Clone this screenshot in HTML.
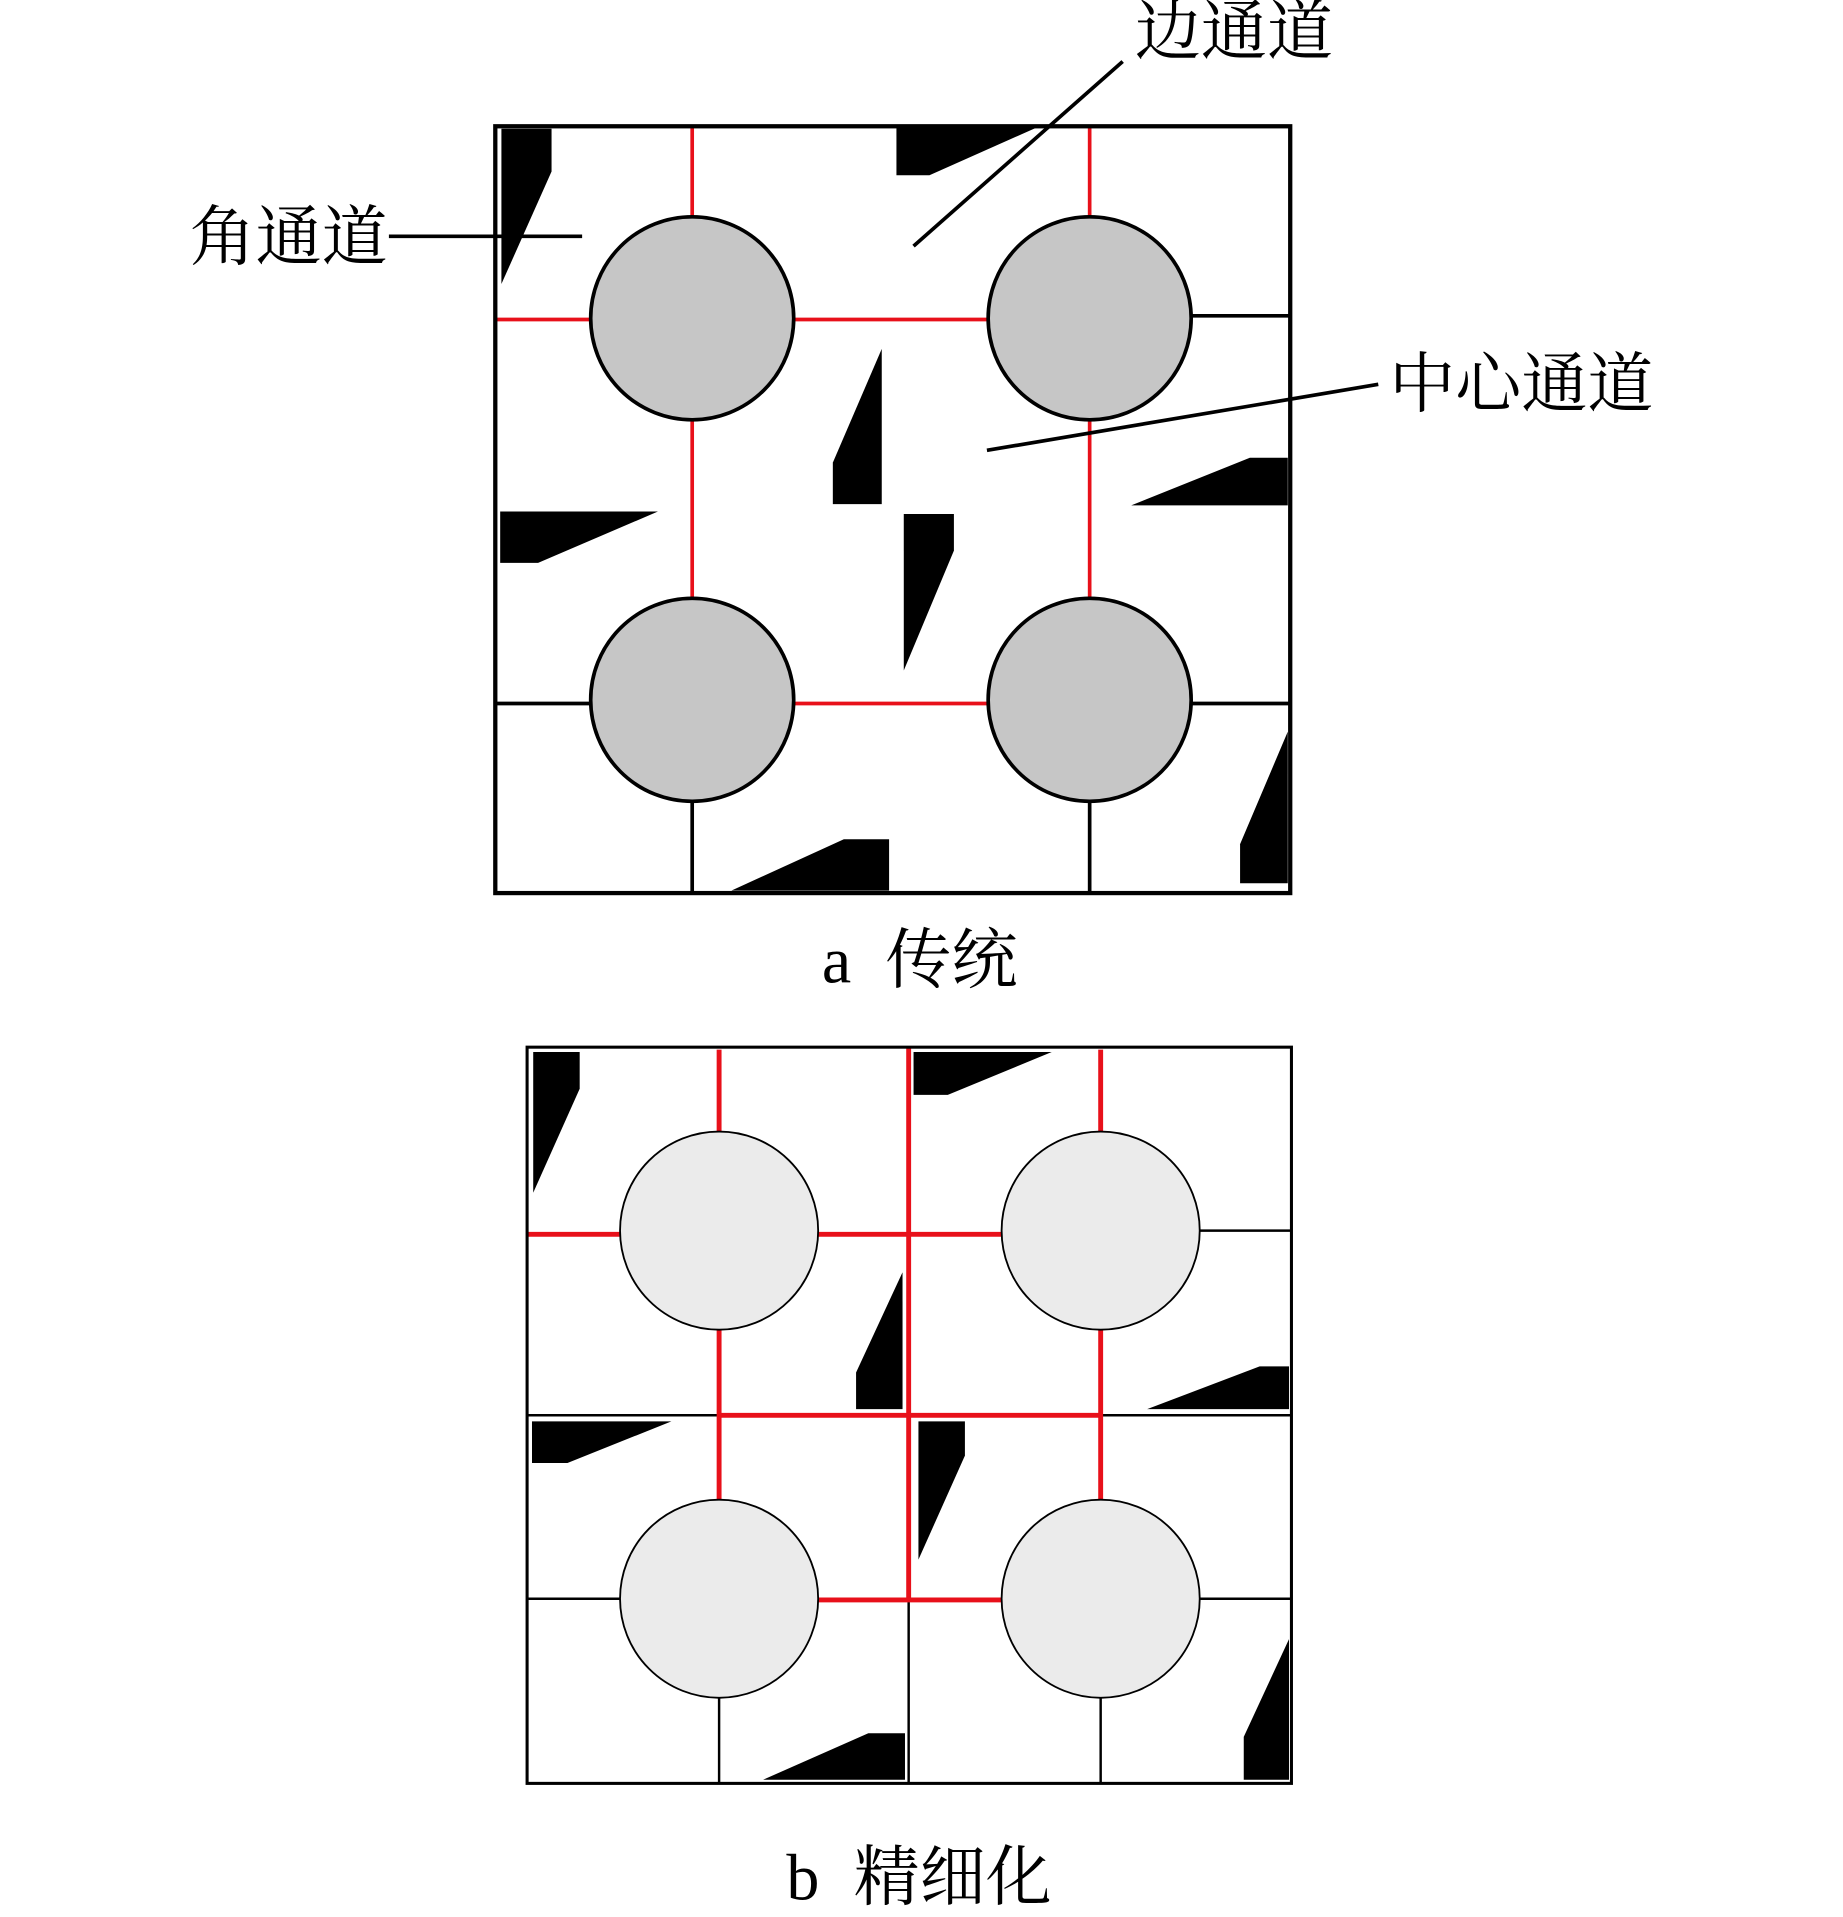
<!DOCTYPE html>
<html><head><meta charset="utf-8"><style>html,body{margin:0;padding:0;background:#fff}svg{display:block}</style></head>
<body>
<svg width="1843" height="1917" viewBox="0 0 1507 1567" xmlns="http://www.w3.org/2000/svg" font-family="'Liberation Serif','Noto Serif CJK SC',serif">
<rect width="1507" height="1567" fill="#fff"/>
<!-- Panel a -->
<g fill="#000">
<polygon points="410,105 451,105 451,140 410,232"/>
<polygon points="733,103 850,103 760,143 733,143"/>
<polygon points="721,285 721,412 681,412 681,378"/>
<polygon points="739,420 780,420 780,450 739,548"/>
<polygon points="409,418 538,418 440,460 409,460"/>
<polygon points="925,413 1022,374 1053,374 1053,413"/>
<polygon points="598,728 690,686 727,686 727,728"/>
<polygon points="1014,690 1053,598 1053,722 1014,722"/>
</g>
<g stroke="#e8101a" stroke-width="3">
<line x1="566" y1="103" x2="566" y2="177"/><line x1="891" y1="103" x2="891" y2="177"/>
<line x1="405" y1="261" x2="483" y2="261"/><line x1="649" y1="261" x2="808" y2="261"/>
<line x1="566" y1="343" x2="566" y2="489"/><line x1="891" y1="343" x2="891" y2="489"/>
<line x1="649" y1="575" x2="808" y2="575"/>
</g>
<g stroke="#000" stroke-width="3">
<line x1="975" y1="258" x2="1055" y2="258"/>
<line x1="405" y1="575" x2="483" y2="575"/><line x1="975" y1="575" x2="1055" y2="575"/>
<line x1="566" y1="655" x2="566" y2="730"/><line x1="891" y1="655" x2="891" y2="730"/>
</g>
<g fill="#c6c6c6" stroke="#000" stroke-width="3">
<circle cx="566" cy="260" r="83"/><circle cx="891" cy="260" r="83"/>
<circle cx="566" cy="572" r="83"/><circle cx="891" cy="572" r="83"/>
</g>
<rect x="405" y="103" width="650" height="627" fill="none" stroke="#000" stroke-width="3.5"/>
<g stroke="#000" stroke-width="3">
<line x1="318" y1="193" x2="476" y2="193"/>
<line x1="918" y1="50" x2="747" y2="201"/>
<line x1="1127" y1="314" x2="807" y2="368"/>
</g>
<g font-size="54" fill="#000">
<text x="928" y="44">边通道</text>
<text x="155" y="212">角通道</text>
<text x="1136" y="332">中心通道</text>
<text x="672" y="803">a</text><text x="724" y="803">传统</text>
</g>
<!-- Panel b -->
<g fill="#000">
<polygon points="436,860 474,860 474,890 436,975"/>
<polygon points="747,860 860,860 775,895 747,895"/>
<polygon points="738,1040 738,1152 700,1152 700,1122"/>
<polygon points="751,1162 789,1162 789,1190 751,1275"/>
<polygon points="435,1162 549,1162 464,1196 435,1196"/>
<polygon points="938,1152 1030,1117 1054,1117 1054,1152"/>
<polygon points="624,1455 710,1417 740,1417 740,1455"/>
<polygon points="1017,1420 1054,1340 1054,1455 1017,1455"/>
</g>
<g stroke="#000" stroke-width="2">
<line x1="431" y1="1157" x2="1056" y2="1157"/>
<line x1="743" y1="1308" x2="743" y2="1458"/>
<line x1="981" y1="1006" x2="1056" y2="1006"/>
<line x1="431" y1="1307" x2="507" y2="1307"/><line x1="981" y1="1307" x2="1056" y2="1307"/>
<line x1="588" y1="1388" x2="588" y2="1458"/><line x1="900" y1="1388" x2="900" y2="1458"/>
</g>
<g stroke="#e8101a" stroke-width="4">
<line x1="743" y1="856" x2="743" y2="1308"/>
<line x1="588" y1="858" x2="588" y2="925"/><line x1="900" y1="858" x2="900" y2="925"/>
<line x1="431" y1="1009" x2="507" y2="1009"/><line x1="669" y1="1009" x2="819" y2="1009"/>
<line x1="588" y1="1087" x2="588" y2="1226"/><line x1="900" y1="1087" x2="900" y2="1226"/>
<line x1="588" y1="1157" x2="900" y2="1157"/>
<line x1="669" y1="1308" x2="819" y2="1308"/>
</g>
<g fill="#ebebeb" stroke="#000" stroke-width="1.5">
<circle cx="588" cy="1006" r="81"/><circle cx="900" cy="1006" r="81"/>
<circle cx="588" cy="1307" r="81"/><circle cx="900" cy="1307" r="81"/>
</g>
<rect x="431" y="856" width="625" height="602" fill="none" stroke="#000" stroke-width="2.5"/>
<g font-size="54" fill="#000">
<text x="643" y="1553">b</text><text x="698" y="1553">精细化</text>
</g>
</svg>
</body></html>
